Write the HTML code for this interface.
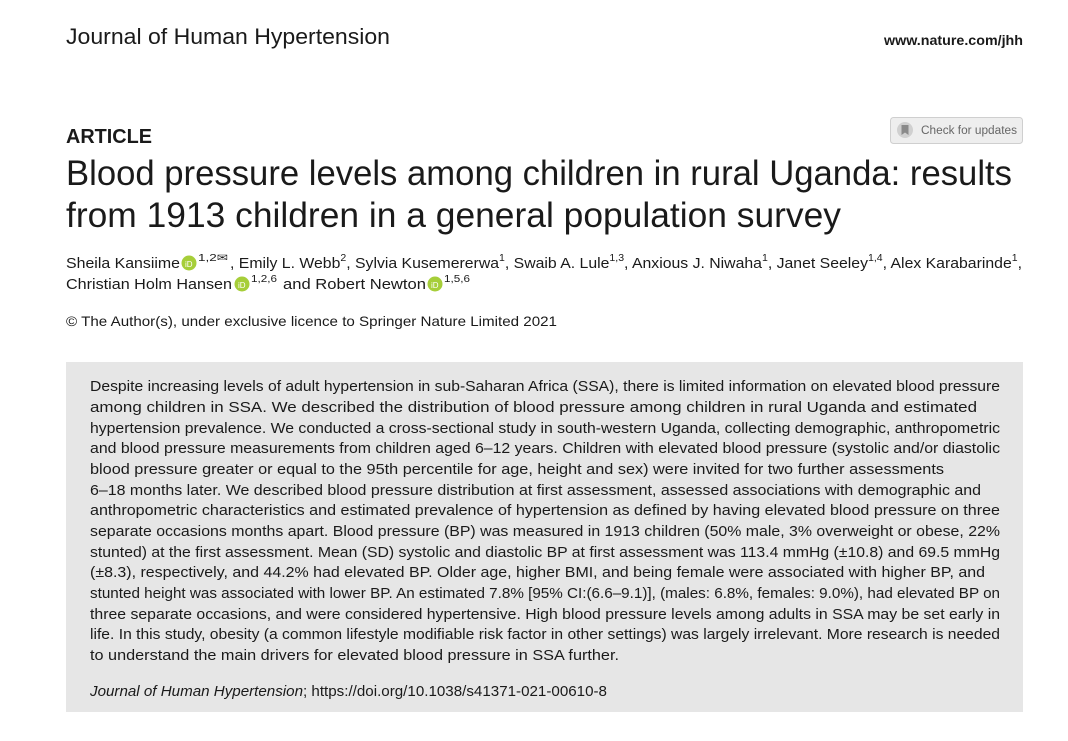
<!DOCTYPE html>
<html><head><meta charset="utf-8"><style>
html,body{margin:0;padding:0;background:#fff;}
svg{display:block;}
text{font-family:"Liberation Sans",sans-serif;fill:#1a1a1a;}
</style></head><body>
<svg width="1068" height="741" viewBox="0 0 1068 741" xmlns="http://www.w3.org/2000/svg">
<rect width="1068" height="741" fill="#fff"/>
<text x="66" y="44" font-size="22" textLength="324" lengthAdjust="spacingAndGlyphs">Journal of Human Hypertension</text>
<text x="884" y="45" font-size="14" font-weight="bold" textLength="139" lengthAdjust="spacingAndGlyphs">www.nature.com/jhh</text>

<rect x="890.5" y="117.5" width="132" height="26" rx="3" fill="#eeeeee" stroke="#cfcfcf"/>
<circle cx="905" cy="130" r="8" fill="#d0d0d0"/>
<path d="M901.5 125h7v10l-3.5-2.5-3.5 2.5z" fill="#8a8a8a"/>
<text x="921" y="134" font-size="11.5" fill="#666" style="fill:#666" textLength="96" lengthAdjust="spacingAndGlyphs">Check for updates</text>

<text x="66" y="143" font-size="20" font-weight="bold" textLength="86" lengthAdjust="spacingAndGlyphs">ARTICLE</text>
<text x="66" y="185" font-size="35" textLength="946" lengthAdjust="spacingAndGlyphs">Blood pressure levels among children in rural Uganda: results</text>
<text x="66" y="227" font-size="35" textLength="775" lengthAdjust="spacingAndGlyphs">from 1913 children in a general population survey</text>

<g font-size="15">
<text x="66" y="268" textLength="114" lengthAdjust="spacingAndGlyphs">Sheila Kansiime</text>
<circle cx="189" cy="263" r="7.5" fill="#a6ce39"/><text x="185" y="267" font-size="8" style="fill:#fff">iD</text>
<text x="198" y="261" font-size="10" textLength="30" lengthAdjust="spacingAndGlyphs">1,2✉</text>
<text x="230" y="268" textLength="792" lengthAdjust="spacingAndGlyphs">, Emily L. Webb<tspan font-size="10" dy="-7">2</tspan><tspan dy="7">, Sylvia Kusemererwa</tspan><tspan font-size="10" dy="-7">1</tspan><tspan dy="7">, Swaib A. Lule</tspan><tspan font-size="10" dy="-7">1,3</tspan><tspan dy="7">, Anxious J. Niwaha</tspan><tspan font-size="10" dy="-7">1</tspan><tspan dy="7">, Janet Seeley</tspan><tspan font-size="10" dy="-7">1,4</tspan><tspan dy="7">, Alex Karabarinde</tspan><tspan font-size="10" dy="-7">1</tspan><tspan dy="7">,</tspan></text>
<text x="66" y="289" textLength="166" lengthAdjust="spacingAndGlyphs">Christian Holm Hansen</text>
<circle cx="242" cy="284" r="7.5" fill="#a6ce39"/><text x="238" y="288" font-size="8" style="fill:#fff">iD</text>
<text x="251" y="282" font-size="10" textLength="26" lengthAdjust="spacingAndGlyphs">1,2,6</text>
<text x="283" y="289" textLength="143" lengthAdjust="spacingAndGlyphs">and Robert Newton</text>
<circle cx="435" cy="284" r="7.5" fill="#a6ce39"/><text x="431" y="288" font-size="8" style="fill:#fff">iD</text>
<text x="444" y="282" font-size="10" textLength="26" lengthAdjust="spacingAndGlyphs">1,5,6</text>
<text x="66" y="326" font-size="14" textLength="491" lengthAdjust="spacingAndGlyphs">© The Author(s), under exclusive licence to Springer Nature Limited 2021</text>
</g>

<rect x="66" y="362" width="957" height="350" fill="#e6e6e6"/>
<g font-size="15">
<text x="90" y="391" textLength="910" lengthAdjust="spacingAndGlyphs">Despite increasing levels of adult hypertension in sub-Saharan Africa (SSA), there is limited information on elevated blood pressure</text>
<text x="90" y="412" textLength="887" lengthAdjust="spacingAndGlyphs">among children in SSA. We described the distribution of blood pressure among children in rural Uganda and estimated</text>
<text x="90" y="433" textLength="910" lengthAdjust="spacingAndGlyphs">hypertension prevalence. We conducted a cross-sectional study in south-western Uganda, collecting demographic, anthropometric</text>
<text x="90" y="453" textLength="910" lengthAdjust="spacingAndGlyphs">and blood pressure measurements from children aged 6–12 years. Children with elevated blood pressure (systolic and/or diastolic</text>
<text x="90" y="474" textLength="854" lengthAdjust="spacingAndGlyphs">blood pressure greater or equal to the 95th percentile for age, height and sex) were invited for two further assessments</text>
<text x="90" y="495" textLength="891" lengthAdjust="spacingAndGlyphs">6–18 months later. We described blood pressure distribution at first assessment, assessed associations with demographic and</text>
<text x="90" y="515" textLength="910" lengthAdjust="spacingAndGlyphs">anthropometric characteristics and estimated prevalence of hypertension as defined by having elevated blood pressure on three</text>
<text x="90" y="536" textLength="910" lengthAdjust="spacingAndGlyphs">separate occasions months apart. Blood pressure (BP) was measured in 1913 children (50% male, 3% overweight or obese, 22%</text>
<text x="90" y="557" textLength="910" lengthAdjust="spacingAndGlyphs">stunted) at the first assessment. Mean (SD) systolic and diastolic BP at first assessment was 113.4 mmHg (±10.8) and 69.5 mmHg</text>
<text x="90" y="577" textLength="895" lengthAdjust="spacingAndGlyphs">(±8.3), respectively, and 44.2% had elevated BP. Older age, higher BMI, and being female were associated with higher BP, and</text>
<text x="90" y="598" textLength="910" lengthAdjust="spacingAndGlyphs">stunted height was associated with lower BP. An estimated 7.8% [95% CI:(6.6–9.1)], (males: 6.8%, females: 9.0%), had elevated BP on</text>
<text x="90" y="619" textLength="910" lengthAdjust="spacingAndGlyphs">three separate occasions, and were considered hypertensive. High blood pressure levels among adults in SSA may be set early in</text>
<text x="90" y="639" textLength="910" lengthAdjust="spacingAndGlyphs">life. In this study, obesity (a common lifestyle modifiable risk factor in other settings) was largely irrelevant. More research is needed</text>
<text x="90" y="660" textLength="529" lengthAdjust="spacingAndGlyphs">to understand the main drivers for elevated blood pressure in SSA further.</text>
<text x="90" y="696" textLength="517" lengthAdjust="spacingAndGlyphs"><tspan font-style="italic">Journal of Human Hypertension</tspan>; https://doi.org/10.1038/s41371-021-00610-8</text>
</g>
</svg>
</body></html>
